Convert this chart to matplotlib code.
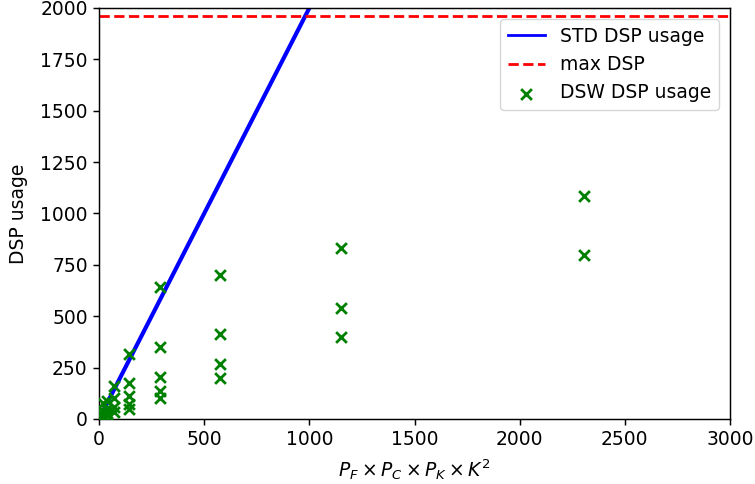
import numpy as np
import matplotlib.pyplot as plt

plt.rcParams['font.size'] = 13.5
plt.rcParams['axes.linewidth'] = 1.05
plt.rcParams['xtick.major.size'] = 4.6
plt.rcParams['ytick.major.size'] = 4.6
plt.rcParams['xtick.major.width'] = 1.05
plt.rcParams['ytick.major.width'] = 1.05

# parallelism product P_F*P_C*P_K*K^2
std_x = [0, 18, 36, 72, 144, 288, 576, 1152]
std_dsp = [0, 36, 72, 144, 288, 576, 1152, 2304]

max_dsp = 1962

dsw_x = [18, 18, 18, 18,
         36, 36, 36, 36,
         72, 72, 72, 72,
         144, 144, 144, 144, 144,
         288, 288, 288, 288, 288,
         576, 576, 576, 576,
         1152, 1152, 1152,
         2304, 2304]
dsw_dsp = [80, 40, 20, 12,
           90, 50, 30, 20,
           160, 100, 60, 35,
           315, 175, 110, 75, 50,
           640, 350, 205, 135, 100,
           700, 415, 270, 198,
           830, 542, 398,
           1085, 800]

fig = plt.figure(figsize=(7.55, 4.84), dpi=100)
ax = fig.add_axes([99/755, 65/484, 631/755, 411/484])

ax.plot(std_x, std_dsp, color='blue', lw=3, label='STD DSP usage')
ax.axhline(max_dsp, color='red', ls='--', lw=2, label='max DSP')
ax.scatter(dsw_x, dsw_dsp, marker='x', color='green', s=60, linewidths=2,
           label='DSW DSP usage', zorder=3)

ax.set_xlim(0, 3000)
ax.set_ylim(0, 2000)
ax.set_xlabel(r'$P_F \times P_C \times P_K \times K^2$', labelpad=6)
ax.set_ylabel('DSP usage', labelpad=9)
leg = ax.legend(loc='upper right', borderaxespad=0.6)
leg.get_lines()[0].set_linewidth(2)

plt.savefig('out.png')
